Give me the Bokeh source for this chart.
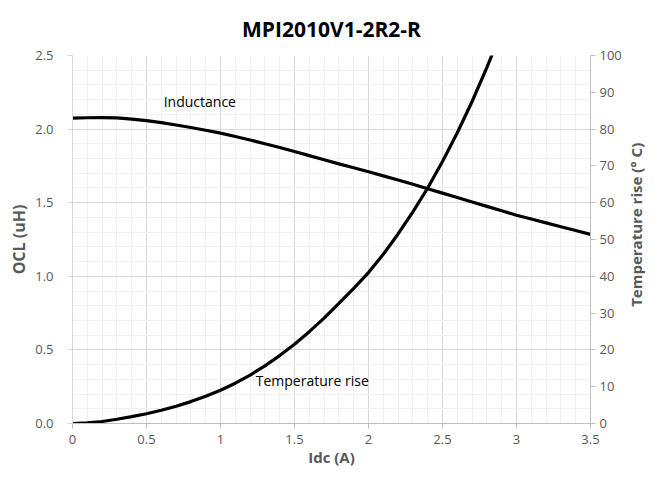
import math
import numpy as np
from bokeh.plotting import figure
from bokeh.layouts import row
from bokeh.models import Range1d, LinearAxis, FixedTicker, Label
from bokeh.embed import file_html
from bokeh.resources import INLINE

# ---- data ----
idc_ind = [0, 0.1, 0.2, 0.3, 0.4, 0.5, 0.6, 0.7, 0.8, 0.9, 1.0, 1.1, 1.2, 1.3, 1.4, 1.5, 1.6, 1.7,
           1.8, 1.9, 2.0, 2.1, 2.2, 2.3, 2.4, 2.5, 2.6, 2.7, 2.8, 2.9, 3.0, 3.1, 3.2, 3.3, 3.4, 3.5]
ocl_uh = [2.075, 2.077, 2.078, 2.076, 2.068, 2.058, 2.044, 2.028, 2.011, 1.992, 1.973, 1.950,
          1.926, 1.900, 1.875, 1.848, 1.820, 1.792, 1.764, 1.737, 1.710, 1.682, 1.654, 1.625,
          1.595, 1.565, 1.535, 1.505, 1.475, 1.445, 1.415, 1.389, 1.363, 1.337, 1.311, 1.285]

idc_temp = [0, 0.1, 0.2, 0.3, 0.4, 0.5, 0.6, 0.7, 0.8, 0.9, 1.0, 1.1, 1.2, 1.3, 1.4, 1.5, 1.6,
            1.7, 1.8, 1.9, 2.0, 2.1, 2.2, 2.3, 2.4, 2.5, 2.6, 2.7, 2.8, 2.9]
temp_rise = [0, 0.15, 0.55, 1.15, 1.85, 2.65, 3.6, 4.7, 5.95, 7.4, 9.05, 10.95, 13.15, 15.65,
             18.45, 21.55, 24.95, 28.65, 32.65, 36.7, 41.0, 46.0, 51.5, 57.5, 64.0, 71.2, 79.0,
             87.5, 96.8, 106.6]

x_ticks = [0, 0.5, 1, 1.5, 2, 2.5, 3, 3.5]
x_tick_labels = ["0", "0.5", "1", "1.5", "2", "2.5", "3", "3.5"]
y_ticks = [0, 0.5, 1, 1.5, 2, 2.5]
y_tick_labels = ["0.0", "0.5", "1.0", "1.5", "2.0", "2.5"]
y2_ticks = [0, 10, 20, 30, 40, 50, 60, 70, 80, 90, 100]
y2_tick_labels = ["0", "10", "20", "30", "40", "50", "60", "70", "80", "90", "100"]

title_text = "MPI2010V1-2R2-R"
x_title = "Idc (A)"
y_title = "OCL (uH)"
y2_title = "Temperature rise (° C)"
ind_label = "Inductance"
temp_label = "Temperature rise"

FONT = "Open Sans"
GRAY = "#595959"
TOP, BOTTOM = 55, 50

p = figure(width=624, height=473, x_range=Range1d(0, 3.5), y_range=Range1d(0, 2.5),
           output_backend="svg", toolbar_location=None,
           min_border_left=72, min_border_right=32, min_border_top=TOP, min_border_bottom=BOTTOM)
p.extra_y_ranges = {"temp": Range1d(0, 100)}
p.outline_line_color = None
p.background_fill_color = "white"
p.border_fill_color = "white"

# title
p.title.text = title_text
p.title.align = "center"
p.title.text_font = FONT
p.title.text_font_style = "bold"
p.title.text_font_size = "21px"
p.title.text_color = "#000000"
p.title.standoff = 25

# tickers
x_minor = [round(v, 2) for v in np.arange(0, 3.5001, 0.1)]
y_minor = [round(v, 2) for v in np.arange(0, 2.5001, 0.1)]
xt = FixedTicker(ticks=x_ticks, minor_ticks=x_minor)
yt = FixedTicker(ticks=y_ticks, minor_ticks=y_minor)

xa = p.xaxis[0]
xa.ticker = xt
xa.major_label_overrides = dict(zip(x_ticks, x_tick_labels))
xa.axis_label = x_title
ya = p.yaxis[0]
ya.ticker = yt
ya.major_label_overrides = dict(zip(y_ticks, y_tick_labels))
ya.axis_label = y_title

ra = LinearAxis(y_range_name="temp", ticker=FixedTicker(ticks=y2_ticks))
ra.major_label_overrides = dict(zip(y2_ticks, y2_tick_labels))
p.add_layout(ra, "right")

for ax in (xa, ya, ra):
    ax.major_label_text_font = FONT
    ax.major_label_text_font_size = "13px"
    ax.major_label_text_color = GRAY
    ax.axis_label_text_font = FONT
    ax.axis_label_text_font_size = "16px"
    ax.axis_label_text_font_style = "bold"
    ax.axis_label_text_color = GRAY
    ax.minor_tick_line_color = None
    ax.major_tick_in = 0
    ax.major_tick_out = 5

xa.axis_line_color = "#bfbfbf"
xa.major_tick_line_color = "#bfbfbf"
xa.major_label_standoff = 6
xa.axis_label_standoff = 0
xa.axis_label_text_font_size = "15px"

ya.axis_line_color = "#d9d9d9"
ya.major_tick_line_color = "#d9d9d9"
ya.major_label_standoff = 14
ya.axis_label_standoff = 2

ra.axis_line_color = "#bfbfbf"
ra.major_tick_line_color = "#bfbfbf"
ra.major_label_standoff = 4

# grids
p.xgrid.ticker = xt
p.ygrid.ticker = yt
for g in (p.xgrid, p.ygrid):
    g.grid_line_color = "#d9d9d9"
    g.grid_line_width = 1
    g.minor_grid_line_color = "#f0f0f0"
    g.minor_grid_line_width = 1

# curves
p.line(idc_ind, ocl_uh, line_color="black", line_width=3.2)
p.line(idc_temp, temp_rise, line_color="black", line_width=3.2, y_range_name="temp")

# curve labels
p.add_layout(Label(x=0.616, y=2.187, text=ind_label, text_font=FONT, text_font_size="14px",
                   text_color="black", text_baseline="middle", text_align="left"))
p.add_layout(Label(x=1.238, y=0.293, text=temp_label, text_font=FONT, text_font_size="14px",
                   text_color="black", text_baseline="middle", text_align="left"))

# right axis title: a narrow strip beside the chart, sharing the temperature scale
q = figure(width=23, height=473, x_range=Range1d(0, 1), y_range=Range1d(0, 100),
           output_backend="svg", toolbar_location=None,
           x_axis_location=None, y_axis_location=None,
           min_border_left=0, min_border_right=0, min_border_top=TOP, min_border_bottom=BOTTOM)
q.outline_line_color = None
q.grid.visible = False
q.background_fill_color = "white"
q.border_fill_color = "white"
q.add_layout(Label(x=0.5, y=54, text=y2_title, text_font=FONT, text_font_size="15px",
                   text_font_style="bold", text_color=GRAY, angle=math.pi / 2,
                   angle_units="rad", text_align="center", text_baseline="middle"))

layout = row(p, q, spacing=0)
open("out.html", "w").write(file_html(layout, INLINE))
